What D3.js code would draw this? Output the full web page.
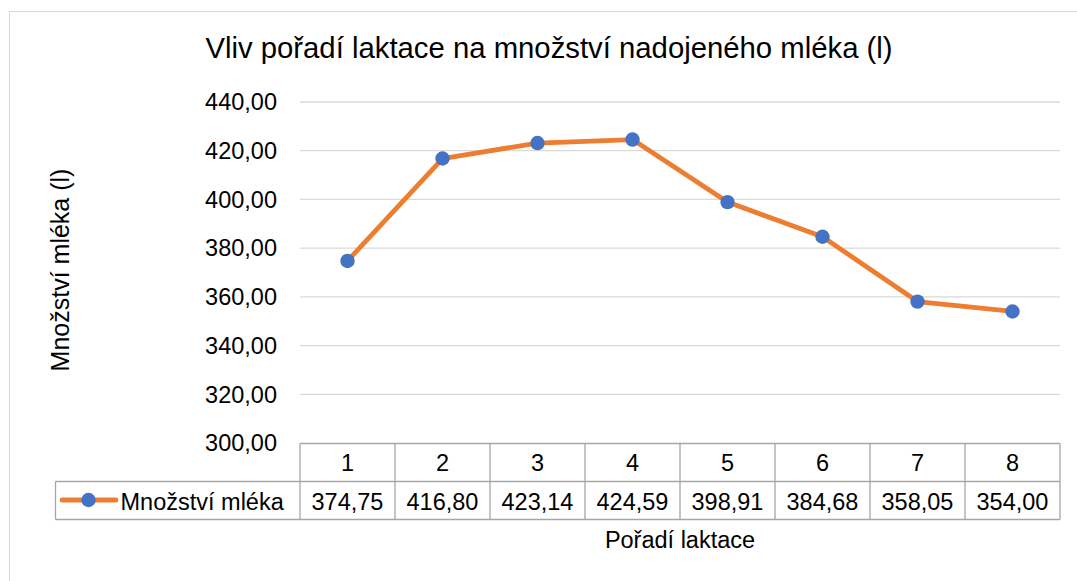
<!DOCTYPE html>
<html>
<head>
<meta charset="utf-8">
<script src="https://cdn.jsdelivr.net/npm/d3@7"></script>
<style>
  body { margin: 0; background: #fff; }
</style>
</head>
<body>
<svg id="chart" width="1077" height="581"></svg>
<script>
const categories = ["1", "2", "3", "4", "5", "6", "7", "8"];
const values = [374.75, 416.80, 423.14, 424.59, 398.91, 384.68, 358.05, 354.00];
const yTicks = [300, 320, 340, 360, 380, 400, 420, 440];
const seriesName = "Množství mléka";
const title = "Vliv pořadí laktace na množství nadojeného mléka (l)";
const xTitle = "Pořadí laktace";
const yTitle = "Množství mléka (l)";

const fmt = v => v.toFixed(2).replace(".", ",");

const svg = d3.select("#chart")
    .attr("font-family", "'Liberation Sans', Arial, sans-serif")
    .attr("fill", "#000");

// chart frame
svg.append("rect")
    .attr("x", 9.5).attr("y", 11.5)
    .attr("width", 1100).attr("height", 600)
    .attr("fill", "none")
    .attr("stroke", "#d9d9d9");

const plot = { left: 300, right: 1060, top: 102, bottom: 443 };

const x = d3.scaleBand()
    .domain(categories)
    .range([plot.left, plot.right]);

const y = d3.scaleLinear()
    .domain([300, 440])
    .range([plot.bottom, plot.top]);

const fs = 23.5;

svg.append("text")
    .attr("x", 549).attr("y", 58)
    .attr("text-anchor", "middle")
    .attr("font-size", 29.3)
    .text(title);

// gridlines
svg.append("g")
    .selectAll("line")
    .data(yTicks.filter(d => d > 300))
    .join("line")
    .attr("x1", plot.left).attr("x2", plot.right)
    .attr("y1", d => y(d)).attr("y2", d => y(d))
    .attr("stroke", "#d9d9d9")
    .attr("stroke-width", 1.3);

// y tick labels
svg.append("g")
    .selectAll("text")
    .data(yTicks)
    .join("text")
    .attr("x", 277)
    .attr("y", d => y(d) + 8.3)
    .attr("text-anchor", "end")
    .attr("font-size", fs)
    .text(d => fmt(d));

svg.append("text")
    .attr("transform", "translate(69,270) rotate(-90)")
    .attr("text-anchor", "middle")
    .attr("font-size", 25)
    .text(yTitle);

// line + markers
const line = d3.line()
    .x((d, i) => x(categories[i]) + x.bandwidth() / 2)
    .y(d => y(d));

svg.append("path")
    .datum(values)
    .attr("d", line)
    .attr("fill", "none")
    .attr("stroke", "#ed7d31")
    .attr("stroke-width", 4.8)
    .attr("stroke-linejoin", "round");

svg.append("g")
    .selectAll("circle")
    .data(values)
    .join("circle")
    .attr("cx", (d, i) => x(categories[i]) + x.bandwidth() / 2)
    .attr("cy", d => y(d))
    .attr("r", 7.2)
    .attr("fill", "#4472c4");

// data table
const table = { headTop: 443.5, rowMid: 481.5, bottom: 519.5, legendLeft: 55.5 };
const tg = svg.append("g")
    .attr("fill", "none")
    .attr("stroke", "#a6a6a6")
    .attr("stroke-width", 1.3);

tg.append("line")
    .attr("x1", plot.left).attr("x2", plot.right)
    .attr("y1", table.headTop).attr("y2", table.headTop);
tg.append("line")
    .attr("x1", table.legendLeft).attr("x2", plot.right)
    .attr("y1", table.rowMid).attr("y2", table.rowMid);
tg.append("line")
    .attr("x1", table.legendLeft).attr("x2", plot.right)
    .attr("y1", table.bottom).attr("y2", table.bottom);
tg.append("line")
    .attr("x1", table.legendLeft).attr("x2", table.legendLeft)
    .attr("y1", table.rowMid).attr("y2", table.bottom);
tg.selectAll(".vline")
    .data(categories.concat(["end"]))
    .join("line")
    .attr("x1", (d, i) => plot.left + i * x.bandwidth())
    .attr("x2", (d, i) => plot.left + i * x.bandwidth())
    .attr("y1", table.headTop).attr("y2", table.bottom);

svg.append("g")
    .selectAll("text")
    .data(categories)
    .join("text")
    .attr("x", d => x(d) + x.bandwidth() / 2)
    .attr("y", 471)
    .attr("text-anchor", "middle")
    .attr("font-size", fs)
    .text(d => d);

svg.append("g")
    .selectAll("text")
    .data(values)
    .join("text")
    .attr("x", (d, i) => x(categories[i]) + x.bandwidth() / 2)
    .attr("y", 509.5)
    .attr("text-anchor", "middle")
    .attr("font-size", fs)
    .text(d => fmt(d));

// legend key in table
svg.append("line")
    .attr("x1", 62).attr("x2", 116)
    .attr("y1", 500).attr("y2", 500)
    .attr("stroke", "#ed7d31")
    .attr("stroke-width", 4.8)
    .attr("stroke-linecap", "round");
svg.append("circle")
    .attr("cx", 88.5).attr("cy", 500).attr("r", 7.2)
    .attr("fill", "#4472c4");
svg.append("text")
    .attr("x", 120.5).attr("y", 509.5)
    .attr("font-size", fs)
    .text(seriesName);

svg.append("text")
    .attr("x", 680).attr("y", 548)
    .attr("text-anchor", "middle")
    .attr("font-size", fs)
    .text(xTitle);
</script>
</body>
</html>
